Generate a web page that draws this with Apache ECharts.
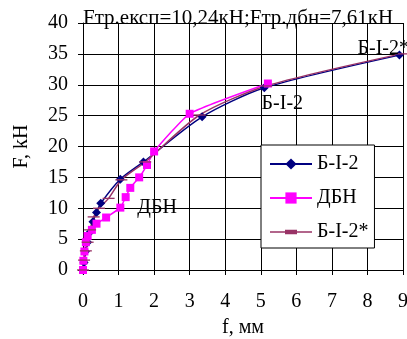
<!DOCTYPE html>
<html>
<head>
<meta charset="utf-8">
<script src="https://cdn.jsdelivr.net/npm/echarts@6/dist/echarts.min.js"></script>
<style>
  html, body { margin: 0; padding: 0; background: #fff; }
  #chart { width: 407px; height: 339px; }
</style>
</head>
<body>
<div id="chart"></div>
<script>
// deflection f (mm) vs load F (kN)
const b12X = [0, 0.03, 0.07, 0.13, 0.21, 0.28, 0.38, 0.5, 1.05, 1.7, 3.35, 5.1, 8.9]
const b12F = [0, 1.2, 3.0, 4.5, 6.2, 7.8, 9.3, 10.8, 14.7, 17.5, 24.8, 29.5, 34.8]

const dbnX = [0, 0.01, 0.04, 0.08, 0.13, 0.25, 0.38, 0.65, 1.05, 1.2, 1.33, 1.58, 1.8, 2.0, 3.0, 5.2]
const dbnF = [0, 1.5, 3.0, 4.5, 5.5, 6.5, 7.5, 8.5, 10.1, 11.8, 13.3, 15.0, 17.0, 19.2, 25.3, 30.2]

const b12sX = [0, 0.03, 0.08, 0.13, 0.2, 0.3, 0.45, 0.72, 1.08, 1.75, 3.28, 5.15, 8.95]
const b12sF = [0, 1.6, 3.1, 4.5, 6.5, 8.6, 10.0, 11.6, 14.6, 17.5, 25.1, 29.8, 35.0]

const xTicks = [0, 1, 2, 3, 4, 5, 6, 7, 8, 9]
const yTicks = [0, 5, 10, 15, 20, 25, 30, 35, 40]

const titleText = 'Fтр.експ=10,24кН;Fтр.дбн=7,61кН'
const serif = 'Liberation Serif, Times New Roman, serif'
const dash = 'path://M0,0L12,0L12,4L0,4Z'
// legend sample for the dash-marker series: line with a short bar on it
const dashLegend = 'path://M0,5.5L42,5.5L42,7L0,7Z M15,4L27,4L27,8.5L15,8.5Z'

function pairs(xs, ys) {
  return xs.map((x, i) => [x, ys[i]])
}

const chart = echarts.init(document.getElementById('chart'))

const b12Data = pairs(b12X, b12F)
// label the point near f = 5 mm
b12Data[11] = {
  value: b12Data[11],
  label: { show: true, formatter: 'Б-І-2', position: 'bottom', offset: [18, -4] }
}

const dbnData = pairs(dbnX, dbnF)
dbnData[8] = {
  value: dbnData[8],
  label: { show: true, formatter: 'ДБН', position: 'right', distance: 13 }
}

const b12sData = pairs(b12sX, b12sF)
b12sData[b12sData.length - 1] = {
  value: b12sData[b12sData.length - 1],
  label: { show: true, formatter: 'Б-І-2*', position: 'top', offset: [-18, 11] }
}

chart.setOption({
  animation: false,
  textStyle: { fontFamily: serif },
  title: {
    text: titleText,
    left: 78,
    top: 3,
    textStyle: { fontFamily: serif, fontSize: 21, fontWeight: 'normal', color: '#000' }
  },
  grid: { left: 83, right: 4, top: 23, bottom: 69, outerBoundsMode: 'none' },
  legend: {
    orient: 'vertical',
    left: 261,
    top: 145,
    padding: [9, 6, 6, 8],
    itemGap: 14,
    itemWidth: 42,
    itemHeight: 14,
    backgroundColor: '#fff',
    borderColor: '#000',
    borderWidth: 1,
    textStyle: { fontFamily: serif, fontSize: 20, color: '#000' },
    data: ['Б-І-2', 'ДБН', { name: 'Б-І-2*', icon: dashLegend }]
  },
  xAxis: {
    type: 'value',
    min: xTicks[0],
    max: xTicks[xTicks.length - 1],
    interval: 1,
    name: 'f, мм',
    nameLocation: 'middle',
    nameGap: 48,
    nameTextStyle: { fontFamily: serif, fontSize: 20, color: '#000' },
    axisLine: { show: true, lineStyle: { color: '#000', width: 1 } },
    axisTick: { show: true, length: 5, lineStyle: { color: '#000' } },
    axisLabel: { fontFamily: serif, fontSize: 20, color: '#000', margin: 22 },
    splitLine: { show: true, lineStyle: { color: '#000', width: 1 } }
  },
  yAxis: {
    type: 'value',
    min: yTicks[0],
    max: yTicks[yTicks.length - 1],
    interval: 5,
    name: 'F, kH',
    nameLocation: 'middle',
    nameGap: 51,
    nameTextStyle: { fontFamily: serif, fontSize: 20, color: '#000' },
    axisLine: { show: true, lineStyle: { color: '#000', width: 1 } },
    axisTick: { show: true, length: 5, lineStyle: { color: '#000' } },
    axisLabel: { fontFamily: serif, fontSize: 20, color: '#000', margin: 15 },
    splitLine: { show: true, lineStyle: { color: '#000', width: 1 } }
  },
  series: [
    {
      name: 'Б-І-2',
      type: 'line',
      data: b12Data,
      smooth: 0.25,
      symbol: 'diamond',
      symbolSize: 9,
      color: '#000080',
      lineStyle: { color: '#000080', width: 1.5 },
      itemStyle: { color: '#000080' },
      label: { fontFamily: serif, fontSize: 20, color: '#000' }
    },
    {
      name: 'ДБН',
      type: 'line',
      data: dbnData,
      smooth: 0.15,
      symbol: 'rect',
      symbolSize: 8,
      color: '#ff00ff',
      lineStyle: { color: '#ff00ff', width: 1.5 },
      itemStyle: { color: '#ff00ff' },
      label: { fontFamily: serif, fontSize: 20, color: '#000' }
    },
    {
      name: 'Б-І-2*',
      type: 'line',
      data: b12sData,
      smooth: 0.25,
      symbol: dash,
      symbolKeepAspect: true,
      symbolSize: [12, 4],
      color: '#993366',
      lineStyle: { color: '#993366', width: 1.5 },
      itemStyle: { color: '#993366' },
      label: { fontFamily: serif, fontSize: 20, color: '#000' }
    }
  ]
})
</script>
</body>
</html>
